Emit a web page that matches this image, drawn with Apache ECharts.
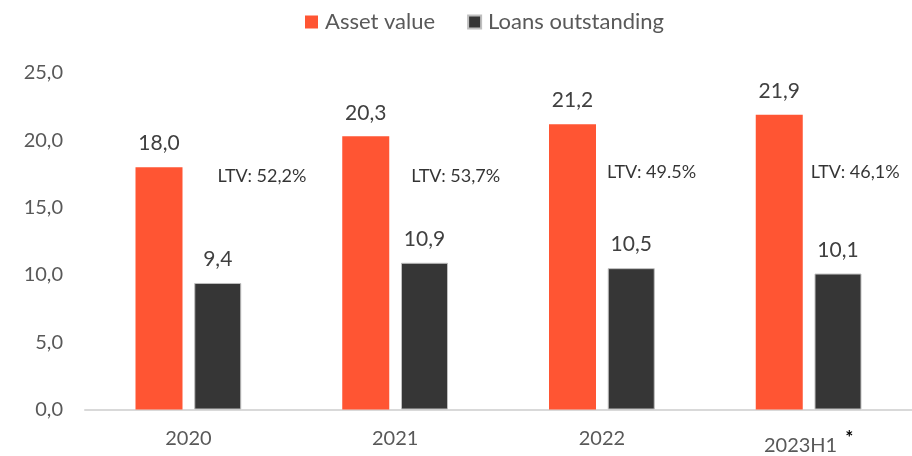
<!DOCTYPE html>
<html>
<head>
<meta charset="utf-8">
<script src="https://cdn.jsdelivr.net/npm/echarts@6/dist/echarts.min.js"></script>
<style>
  html, body { margin: 0; padding: 0; background: #fff; }
  #myChart { width: 912px; height: 456px; }
</style>
</head>
<body>
<div id="myChart"></div>
<script>
// data
var categories = ['2020', '2021', '2022', '2023H1']
var assetValue = [18.0, 20.3, 21.2, 21.9]
var loansOutstanding = [9.4, 10.9, 10.5, 10.1]
var ltvLabels = ['LTV: 52,2%', 'LTV: 53,7%', 'LTV: 49.5%', 'LTV: 46,1%']
var ltvLevel = [17.3, 17.3, 17.65, 17.65] // vertical spot of the LTV text, in axis units
var ltvShift = [29, 16, 5, 2] // px right of the category centre

var font = 'Lato, "Open Sans", sans-serif'
var fmt = function (v) { return v.toFixed(1).replace('.', ',') }

var myChart = echarts.init(document.getElementById('myChart'))
myChart.setOption({
  animation: false,
  textStyle: { fontFamily: font },
  legend: {
    top: 6,
    left: 300,
    itemWidth: 13,
    itemHeight: 13,
    itemGap: 32,
    icon: 'rect',
    textStyle: { fontSize: 22, color: '#595959', fontFamily: font, padding: [0, 0, 0, 2] },
    data: ['Asset value', 'Loans outstanding']
  },
  grid: { left: 85, right: 0, top: 73, bottom: 43 },
  xAxis: {
    type: 'category',
    data: categories,
    axisTick: { show: false },
    axisLine: { lineStyle: { color: '#d9d9d9', width: 2 } },
    axisLabel: {
      margin: 19,
      fontSize: 20,
      color: '#595959',
      formatter: function (v) {
        return v === '2023H1' ? v + '{star|*}' : v
      },
      rich: {
        star: { fontSize: 19, color: '#000', fontWeight: 'bold', verticalAlign: 'top', padding: [0, 0, 16, 8] }
      }
    }
  },
  yAxis: {
    type: 'value',
    min: 0,
    max: 25,
    interval: 5,
    splitLine: { show: false },
    axisLine: { show: false },
    axisTick: { show: false },
    axisLabel: { margin: 22, fontSize: 20, color: '#595959', formatter: fmt }
  },
  series: [
    {
      name: 'Asset value',
      type: 'bar',
      data: assetValue,
      barWidth: 47,
      barGap: '25%',
      itemStyle: { color: '#ff5533' },
      label: {
        show: true, position: 'top', distance: 13,
        fontSize: 21, color: '#404040',
        formatter: function (p) { return fmt(p.value) }
      }
    },
    {
      name: 'Loans outstanding',
      type: 'bar',
      data: loansOutstanding,
      barWidth: 47,
      itemStyle: { color: '#363636', borderColor: '#bfbfbf', borderWidth: 1 },
      label: {
        show: true, position: 'top', distance: 13,
        fontSize: 21, color: '#404040',
        formatter: function (p) { return fmt(p.value) }
      }
    },
    {
      name: 'LTV',
      type: 'scatter',
      symbolSize: 0,
      silent: true,
      data: ltvLevel.map(function (v, i) {
        return {
          value: v,
          label: {
            show: true,
            position: [ltvShift[i], 0],
            align: 'left',
            verticalAlign: 'middle',
            formatter: ltvLabels[i],
            fontSize: 18,
            color: '#000'
          }
        }
      })
    }
  ]
})
</script>
</body>
</html>
